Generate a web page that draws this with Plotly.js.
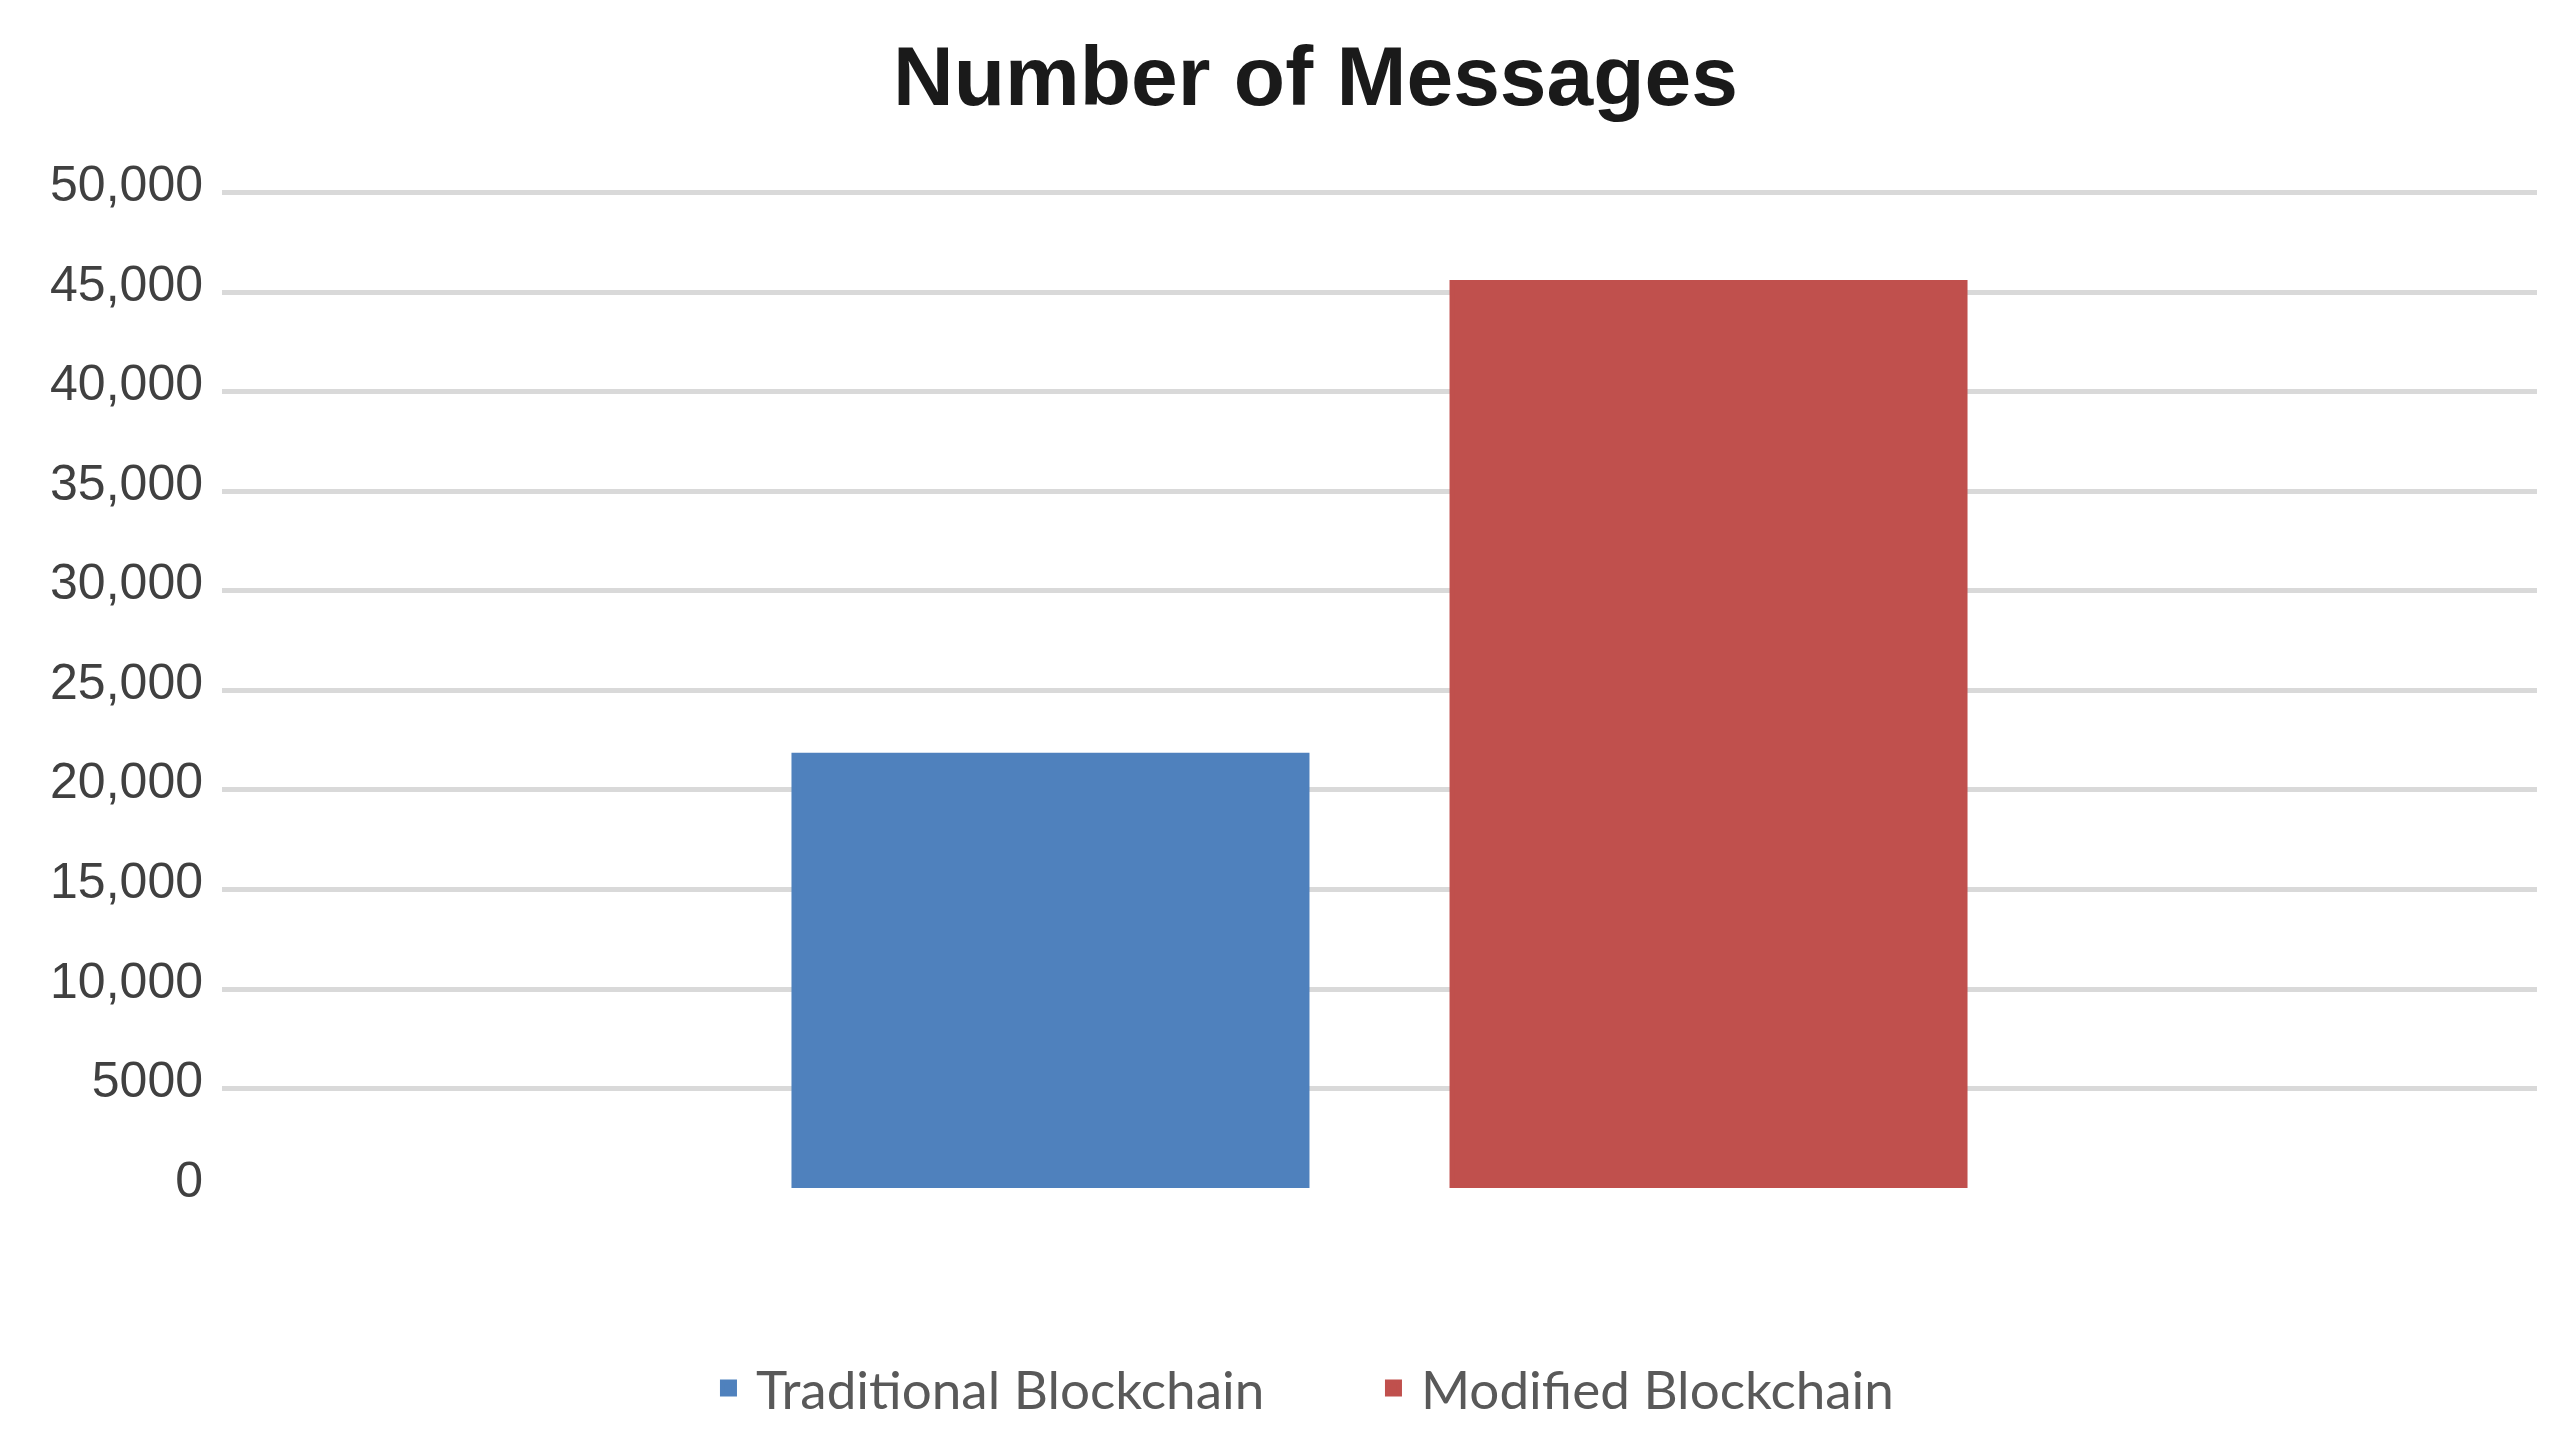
<!DOCTYPE html>
<html>
<head>
<meta charset="utf-8">
<script src="https://cdn.plot.ly/plotly-3.0.1.min.js"></script>
<style>
html, body { margin: 0; padding: 0; background: #ffffff; }
#chart { width: 2571px; height: 1455px; }
</style>
</head>
<body>
<div id="chart"></div>
<script>
// ---- data ----
const categories = ["Number of Messages"];
const seriesNames = ["Traditional Blockchain", "Modified Blockchain"];
const traditionalValues = [21750];
const modifiedValues = [45500];
const yTickValues = [0, 5000, 10000, 15000, 20000, 25000, 30000, 35000, 40000, 45000, 50000];
const yTickLabels = ["0", "5000", "10,000", "15,000", "20,000", "25,000", "30,000", "35,000", "40,000", "45,000", "50,000"];
const seriesColors = ["#4F81BD", "#C0504D"];

const traces = [
  { type: "bar", name: seriesNames[0], x: categories, y: traditionalValues,
    marker: { color: seriesColors[0], line: { color: seriesColors[0], width: 5 } }, hoverinfo: "skip" },
  { type: "bar", name: seriesNames[1], x: categories, y: modifiedValues,
    marker: { color: seriesColors[1], line: { color: seriesColors[1], width: 5 } }, hoverinfo: "skip" }
];

const layout = {
  width: 2571,
  height: 1455,
  margin: { l: 222, r: 34, t: 189, b: 267, pad: 0 },
  paper_bgcolor: "#ffffff",
  plot_bgcolor: "#ffffff",
  barmode: "group",
  bargap: 0.4315,
  bargroupgap: 0.2204,
  title: {
    text: "Number of Messages",
    font: { family: "Liberation Sans, Arial, sans-serif", size: 84, color: "#1a1a1a", weight: "bold" },
    x: 0.5117, xanchor: "center", xref: "container",
    y: 0.9478, yanchor: "middle", yref: "container"
  },
  xaxis: {
    showticklabels: false, showgrid: false, zeroline: false, showline: false, ticks: ""
  },
  yaxis: {
    range: [0, 50200],
    tickmode: "array",
    tickvals: yTickValues,
    ticktext: yTickLabels,
    showgrid: true,
    gridcolor: "#d9d9d9",
    gridwidth: 5,
    zeroline: false,
    showline: false,
    ticks: "",
    ticklabelstandoff: 18,
    ticklabelshift: -9,
    tickfont: { family: "Liberation Sans, Arial, sans-serif", size: 50, color: "#404040" }
  },
  showlegend: true,
  legend: {
    orientation: "h",
    x: 0.5313, xanchor: "center", xref: "container",
    y: 0.046, yanchor: "middle", yref: "container",
    font: { family: "Lato, sans-serif", size: 53, color: "#595959" },
    traceorder: "normal",
    itemwidth: 45,
    entrywidth: 605,
    entrywidthmode: "pixels",
    bgcolor: "rgba(0,0,0,0)"
  }
};

Plotly.newPlot("chart", traces, layout, { displayModeBar: false, responsive: false });
</script>
</body>
</html>
